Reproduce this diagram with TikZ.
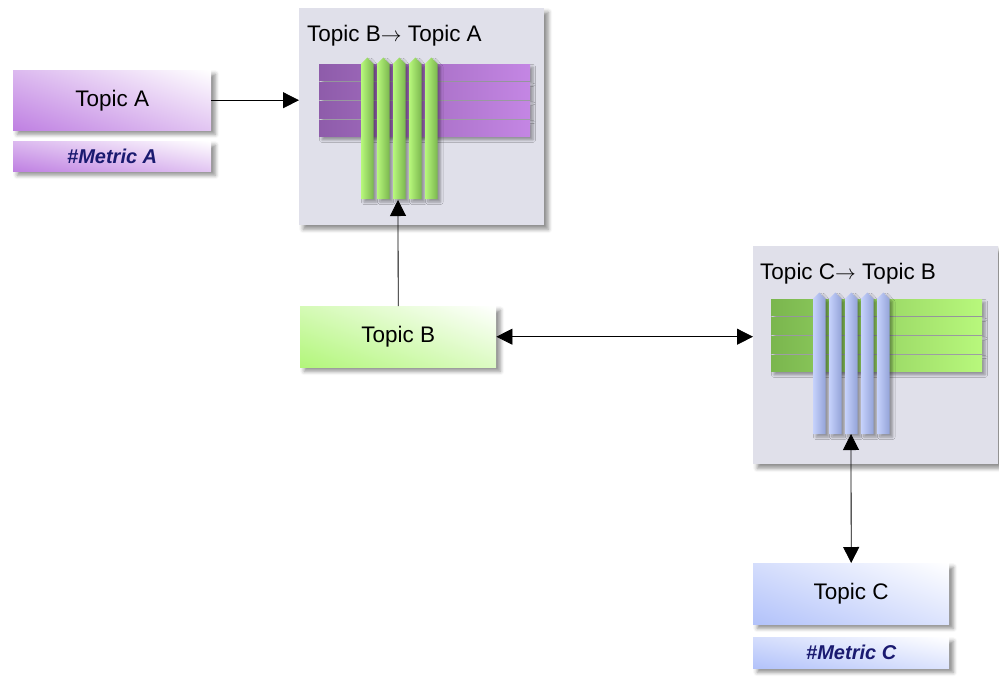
\documentclass[tikz,border=0pt]{standalone}
\usepackage{fontspec}
\setmainfont{Liberation Sans}
\usepackage{xcolor}
\usetikzlibrary{arrows.meta,shadows.blur,shadings}
\definecolor{PanelBg}{HTML}{E0E0EA}
\definecolor{LilaBox}{HTML}{BF80E2}
\definecolor{LilaDark}{HTML}{8E5CAA}
\definecolor{LilaLight}{HTML}{C486E4}
\definecolor{GruenBox}{HTML}{B2F67A}
\definecolor{GruenDark}{HTML}{7AB64E}
\definecolor{GruenLight}{HTML}{B8F87C}
\definecolor{BlauBox}{HTML}{B2C2FA}
\definecolor{BlauLight}{HTML}{C6D2FC}
\definecolor{BlauDark}{HTML}{93A3D8}
\definecolor{MetricText}{HTML}{1A1A70}

\begin{document}
\begin{tikzpicture}[x=1pt, y=-1pt,
  schatten/.style={blur shadow={shadow xshift=4pt, shadow yshift=-4pt, shadow blur radius=4pt, shadow opacity=45}},
  streifen/.style={blur shadow={shadow xshift=3pt, shadow yshift=-3pt, shadow blur radius=2.5pt, shadow opacity=35}},
  topicbox/.style={schatten, anchor=north west, inner sep=0pt, text=black,
    font=\fontsize{22.5}{26}\selectfont,
    lower left=#1, upper right=white, upper left=#1!55, lower right=#1!45},
  metricbox/.style={topicbox=#1, text=MetricText, font=\fontsize{20}{23}\selectfont\bfseries\itshape},
  panel/.style={schatten, fill=PanelBg, anchor=north west, inner sep=0pt},
  paneltitle/.style={anchor=base west, inner sep=0pt, font=\fontsize{22.5}{27}\selectfont},
  link/.style={line width=0.8pt, -{Triangle[length=16pt,width=16pt]}},
  twolink/.style={line width=0.8pt, {Triangle[length=16pt,width=16pt]}-{Triangle[length=16pt,width=16pt]}}
]

  % Bildgrenzen
  \useasboundingbox (0,0) rectangle (999,678);

  % Makro für das Streifenmuster in den Panels
  % Parameter: 1=x, 2=y, 3/4=Balken links/rechts, 5/6=Pfeile links/rechts
  \def\webmuster#1#2#3#4#5#6{
    \begin{scope}[shift={(#1,#2)}]
      \foreach \zeile in {0,...,3}
        \shade[streifen, left color=#3, right color=#4] (0,\zeile*18.7) rectangle (211,\zeile*18.7+16.8);
      \foreach \spalte in {0,...,4}
        \shade[streifen, left color=#5, right color=#6]
          (42+\spalte*16,135) -- (42+\spalte*16,0) -- (48.3+\spalte*16,-6.5)
          -- (54.6+\spalte*16,0) -- (54.6+\spalte*16,135) -- cycle;
    \end{scope}
  }

  % Panels
  \node[panel, minimum width=245pt, minimum height=217pt] (panelBA) at (299,8) {};
  \node[paneltitle] (titleBA) at (307,41) {Topic B$\rightarrow$ Topic A};
  \webmuster{319}{64}{LilaDark}{LilaLight}{GruenLight}{GruenDark}

  \node[panel, minimum width=245pt, minimum height=218pt] (panelCB) at (753,246) {};
  \node[paneltitle] (titleCB) at (760,279) {Topic C$\rightarrow$ Topic B};
  \webmuster{771}{299}{GruenDark}{GruenLight}{BlauLight}{BlauDark}

  % Topics
  \node[topicbox=LilaBox, minimum width=198pt, minimum height=60pt] (topicA) at (13,70) {Topic A};
  \node[metricbox=LilaBox, minimum width=198pt, minimum height=30pt] (metricA) at (13,141) {\#Metric A};
  \node[topicbox=GruenBox, minimum width=196pt, minimum height=61pt] (topicB) at (300,306) {Topic B};
  \node[topicbox=BlauBox, minimum width=196pt, minimum height=61pt] (topicC) at (753,563) {Topic C};
  \node[metricbox=BlauBox, minimum width=196pt, minimum height=31pt] (metricC) at (753,637) {\#Metric C};

  % Verbindungen
  \coordinate (fussBA) at (398,200);
  \coordinate (fussCB) at (851,434);
  \draw[link] (topicA.east) -- (topicA.east -| panelBA.west);
  \draw[link] (topicB.north) -- (fussBA);
  \draw[twolink] (topicB.east) -- (topicB.east -| panelCB.west);
  \draw[twolink] (fussCB) -- (topicC.north);

\end{tikzpicture}
\end{document}
